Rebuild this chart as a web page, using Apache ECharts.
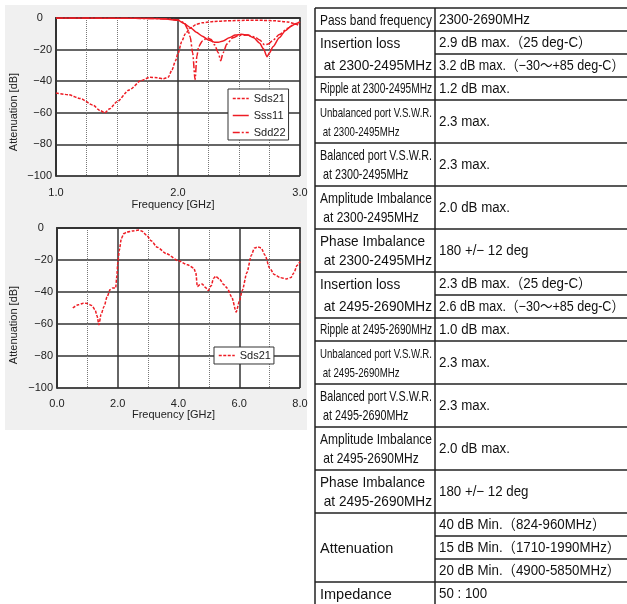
<!DOCTYPE html>
<html><head><meta charset="utf-8">
<script src="https://cdn.jsdelivr.net/npm/echarts@6/dist/echarts.min.js"></script>
<style>html,body{margin:0;padding:0;background:#fff}#c{width:627px;height:604px}</style>
</head><body><div id="c"></div><script>
// ---------- chart 1 (1.0 - 3.0 GHz) ----------
const freq1Sds21 = [1.00,1.10,1.20,1.30,1.36,1.40,1.44,1.50,1.60,1.70,1.77,1.83,1.88,1.92,1.95,1.98,2.00,2.03,2.06,2.10,2.15,2.20,2.30,2.40,2.55,2.70,2.80,2.90,2.95,3.00];
const db1Sds21   = [-47.5,-48.5,-51,-55,-58.5,-60,-57.5,-53,-45.5,-39.5,-37.5,-37.8,-38.5,-37.5,-33,-27,-22.5,-15,-10,-6.5,-4,-3,-2.2,-1.8,-1.5,-1.5,-1.8,-2.5,-3.5,-5];
const freq1Sss11 = [1.0,1.5,1.8,1.9,2.0,2.05,2.1,2.15,2.2,2.25,2.3,2.33,2.37,2.42,2.47,2.52,2.57,2.62,2.67,2.70,2.73,2.75,2.78,2.83,2.88,2.93,2.97,3.0];
const db1Sss11   = [0,-0.1,-0.3,-0.6,-1.5,-3.5,-6,-9,-11.5,-14,-15.3,-15.4,-14.5,-12.5,-10.8,-10.3,-10.8,-12.5,-16,-19.5,-24.5,-22,-18,-12.5,-8,-5,-3.5,-2.5];
const freq1Sdd22 = [1.0,1.5,1.8,1.9,2.0,2.05,2.08,2.10,2.12,2.14,2.155,2.17,2.2,2.24,2.27,2.30,2.33,2.35,2.37,2.40,2.45,2.50,2.57,2.63,2.67,2.71,2.74,2.78,2.83,2.9,2.95,3.0];
const db1Sdd22   = [0,-0.1,-0.3,-0.5,-1.2,-3,-7,-12,-22,-39,-24,-18,-14.5,-12.5,-13.5,-17,-22,-27,-22,-16.5,-12.5,-11,-10.8,-12,-14,-17,-16.5,-14,-10.5,-6.5,-4,-2.5];
// ---------- chart 2 (0 - 8 GHz) ----------
const freq2Sds21 = [0.52,0.7,0.87,1.0,1.15,1.25,1.32,1.38,1.45,1.55,1.65,1.75,1.83,1.93,1.97,2.0,2.05,2.12,2.2,2.3,2.5,2.7,2.8,2.95,3.1,3.3,3.6,4.0,4.3,4.5,4.57,4.62,4.7,4.78,4.88,4.98,5.08,5.15,5.23,5.35,5.5,5.6,5.75,5.9,6.0,6.1,6.25,6.4,6.5,6.62,6.72,6.85,7.0,7.15,7.35,7.55,7.7,7.8,7.9,8.0];
const db2Sds21   = [-50,-48,-47,-47.2,-48.5,-51,-55,-60.5,-54,-49,-43,-38.5,-37.5,-37.5,-30,-22,-14,-6.5,-3.5,-2.5,-1.8,-1.3,-2,-4.5,-8,-12,-16,-20.5,-23,-25,-28,-36.5,-35.5,-35,-37,-39,-36,-31.5,-30.2,-32,-35.5,-37.5,-43,-52.5,-46,-39,-28,-17,-12.5,-11.8,-12.5,-17,-25,-29,-31,-31.8,-31,-28,-23.5,-21];
// ---------- axis text ----------
const xName = 'Frequency [GHz]';
const yName = 'Attenuation [dB]';
const seriesNames = ['Sds21', 'Sss11', 'Sdd22'];
// ---------- specification table ----------
const specNames = [
  ['Pass band frequency'],
  ['Insertion loss', ' at 2300-2495MHz'],
  ['Ripple at 2300-2495MHz'],
  ['Unbalanced port V.S.W.R.', ' at 2300-2495MHz'],
  ['Balanced port V.S.W.R.', ' at 2300-2495MHz'],
  ['Amplitude Imbalance', ' at 2300-2495MHz'],
  ['Phase Imbalance', ' at 2300-2495MHz'],
  ['Insertion loss', ' at 2495-2690MHz'],
  ['Ripple at 2495-2690MHz'],
  ['Unbalanced port V.S.W.R.', ' at 2495-2690MHz'],
  ['Balanced port V.S.W.R.', ' at 2495-2690MHz'],
  ['Amplitude Imbalance', ' at 2495-2690MHz'],
  ['Phase Imbalance', ' at 2495-2690MHz'],
  ['Attenuation'],
  ['Impedance']
];
const specValues = [
  ['2300-2690MHz'],
  ['2.9 dB max.（25 deg-C）', '3.2 dB max.（−30〜+85 deg-C）'],
  ['1.2 dB max.'],
  ['2.3 max.'],
  ['2.3 max.'],
  ['2.0 dB max.'],
  ['180 +/− 12 deg'],
  ['2.3 dB max.（25 deg-C）', '2.6 dB max.（−30〜+85 deg-C）'],
  ['1.0 dB max.'],
  ['2.3 max.'],
  ['2.3 max.'],
  ['2.0 dB max.'],
  ['180 +/− 12 deg'],
  ['40 dB Min.（824-960MHz）', '15 dB Min.（1710-1990MHz）', '20 dB Min.（4900-5850MHz）'],
  ['50 : 100']
];

// ---------- styles / layout ----------
const FF = "'Liberation Sans', 'Noto Sans CJK JP', sans-serif";
const RED = '#ee1c24';
const nameStyleKeys = ['pass','big','ripple','unbal','bal','amp','big','big','ripple','unbal','bal','amp','big','big','big'];
const nameStyles = { pass: 14.5, big: 14.5, ripple: 14, unbal: 13.5, bal: 14.5, amp: 14.5 };
const valueSize = 14, valueScale = 0.95;

const mctx = document.createElement('canvas').getContext('2d');
function measure(t, size) { mctx.font = size + 'px ' + FF; return mctx.measureText(t).width; }
function pairs(xs, ys) { return xs.map((x, i) => [x, ys[i]]); }

const els = [];
els.push({ type: 'rect', z: -100, shape: { x: 5, y: 5, width: 302, height: 425 }, style: { fill: '#f0f0f0' } });
// y axis names
[[14, 112], [14, 325]].forEach(p => els.push({
  type: 'text', x: p[0], y: p[1], rotation: Math.PI / 2,
  style: { text: yName, fontSize: 11, fontFamily: FF, fill: '#222', align: 'center', verticalAlign: 'middle' }
}));

const T = { left: 315, div: 435, right: 640, top: 8, sub: 23, two: 43, nameX: 320, valX: 439, nameW: 112, valW: 185 };
const LC = '#222';
function hline(x1, x2, y) { els.push({ type: 'line', shape: { x1, y1: y, x2, y2: y }, style: { stroke: LC, lineWidth: 1.5 } }); }
let ty = T.top;
hline(T.left, T.right, ty);
specNames.forEach((names, i) => {
  const vals = specValues[i];
  const h = vals.length > 1 ? vals.length * T.sub : (names.length > 1 ? T.two : T.sub);
  const size = nameStyles[nameStyleKeys[i]];
  const wmax = Math.max.apply(null, names.map(t => measure(t, size)));
  const sx = Math.min(1, T.nameW / wmax);
  const gap = vals.length > 1 ? 22 : 19;
  names.forEach((t, k) => {
    els.push({ type: 'text', x: T.nameX, y: ty + h / 2 + (k - (names.length - 1) / 2) * gap + 1, scaleX: sx,
      style: { text: t, fontSize: size, fontFamily: FF, fill: '#111', verticalAlign: 'middle' } });
  });
  vals.forEach((t, k) => {
    const cy = vals.length > 1 ? ty + T.sub * (k + 0.5) : ty + h / 2;
    const w = measure(t, valueSize);
    els.push({ type: 'text', x: T.valX, y: cy + 0.5, scaleX: Math.min(valueScale, T.valW / w),
      style: { text: t, fontSize: valueSize, fontFamily: FF, fill: '#111', verticalAlign: 'middle' } });
    if (k > 0) hline(T.div, T.right, ty + k * T.sub);
  });
  ty += h;
  hline(T.left, T.right, ty);
});
[T.left, T.div].forEach(x => els.push({ type: 'line', shape: { x1: x, y1: T.top, x2: x, y2: 610 }, style: { stroke: LC, lineWidth: 1.5 } }));

function xAxisCfg(grid, min, max, interval, minorSplit, gap, margin) {
  return {
    gridIndex: grid, type: 'value', min, max, interval,
    axisLabel: { formatter: v => v.toFixed(1), margin, fontSize: 11, fontFamily: FF, color: '#222' },
    axisLine: { lineStyle: { color: '#333', width: 2 } },
    axisTick: { show: false },
    splitLine: { show: true, lineStyle: { color: '#333', width: 1.5 } },
    minorTick: { show: false, splitNumber: minorSplit },
    minorSplitLine: { show: true, lineStyle: { color: '#777', width: 1, type: 'dotted' } },
    name: xName, nameLocation: 'middle', nameGap: gap,
    nameTextStyle: { fontSize: 11, fontFamily: FF, color: '#222', padding: [0, 10, 0, 0] }
  };
}
function yAxisCfg(grid) {
  return {
    gridIndex: grid, type: 'value', min: -100, max: 0, interval: 20,
    axisLabel: { formatter: v => v === 0 ? '0   ' : '\u2212' + Math.abs(v), margin: 4, fontSize: 11, fontFamily: FF, color: '#222' },
    axisLine: { show: true, lineStyle: { color: '#333', width: 2 } },
    axisTick: { show: false },
    splitLine: { show: true, lineStyle: { color: '#333', width: 1.5 } }
  };
}
const dotted = [3, 1.5], dashDot = [7, 2, 2, 2];
function lineSeries(name, xi, data, type) {
  return { name, type: 'line', xAxisIndex: xi, yAxisIndex: xi, data, symbol: 'none', smooth: 0.25, smoothMonotone: 'x',
    lineStyle: { color: RED, width: 1.5, type }, itemStyle: { color: RED } };
}

const legendBase = {
  orient: 'vertical', backgroundColor: '#fff', borderColor: '#333', borderWidth: 1,
  itemWidth: 16, itemHeight: 10, itemGap: 6,
  itemStyle: { opacity: 0 },
  lineStyle: { width: 1.5 },
  textStyle: { fontSize: 11, fontFamily: FF, color: '#222' }, selectedMode: false
};

const option = {
  animation: false,
  backgroundColor: '#fff',
  grid: [
    { left: 56, top: 18, width: 244, height: 158, show: true, backgroundColor: '#fff', borderColor: '#333', borderWidth: 1 },
    { left: 57, top: 228, width: 243, height: 160, show: true, backgroundColor: '#fff', borderColor: '#333', borderWidth: 1 }
  ],
  xAxis: [xAxisCfg(0, 1, 3, 1, 4, 23, 11), xAxisCfg(1, 0, 8, 2, 2, 21, 10)],
  yAxis: [yAxisCfg(0), yAxisCfg(1)],
  legend: [
    Object.assign({}, legendBase, { data: seriesNames, left: 228, top: 89, padding: [4, 3, 2, 4] }),
    Object.assign({}, legendBase, { data: [seriesNames[0]], left: 214, top: 347, padding: [3, 3, 3, 4] })
  ],
  series: [
    lineSeries(seriesNames[0], 0, pairs(freq1Sds21, db1Sds21), dotted),
    lineSeries(seriesNames[1], 0, pairs(freq1Sss11, db1Sss11), 'solid'),
    lineSeries(seriesNames[2], 0, pairs(freq1Sdd22, db1Sdd22), dashDot),
    lineSeries(seriesNames[0], 1, pairs(freq2Sds21, db2Sds21), dotted)
  ],
  graphic: { elements: els }
};
const chart = echarts.init(document.getElementById('c'), null, { renderer: 'canvas' });
chart.setOption(option);
</script></body></html>
